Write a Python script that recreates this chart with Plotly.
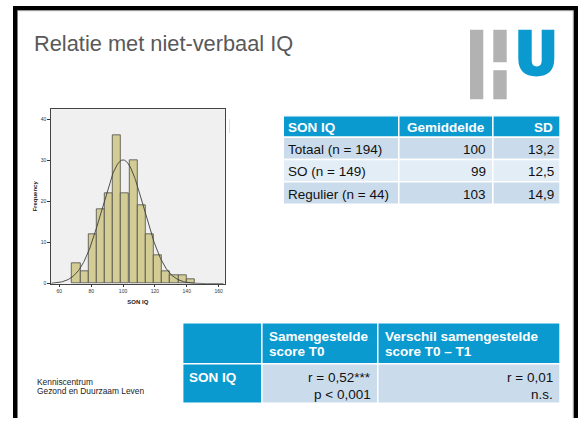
import numpy as np
import plotly.graph_objects as go

W, H = 578, 421
FONT = "Liberation Sans, Arial, sans-serif"

# ---------------- data ----------------
title_text = "Relatie met niet-verbaal IQ"
footer_lines = ["Kenniscentrum", "Gezond en Duurzaam Leven"]

# histogram (SON IQ)
bin_centers = [70.6, 75.7, 80.8, 86.0, 91.1, 96.2, 101.3, 106.5, 111.6, 116.7,
               121.9, 127.0, 132.1, 137.3, 142.4]
bin_counts = [5, 3, 12, 18, 22, 36, 22, 30, 19, 12, 7, 3, 2, 2, 1]
bin_width = 5.13
x_ticks = [60, 80, 100, 120, 140, 160]
y_ticks = [0, 10, 20, 30, 40]
x_title = "SON IQ"
y_title = "Frequency"

# table 1
t1_header = ["SON IQ", "Gemiddelde", "SD"]
t1_groups = ["Totaal (n = 194)", "SO (n = 149)", "Regulier (n = 44)"]
t1_means = [100, 99, 103]
t1_sds = [13.2, 12.5, 14.9]

# table 2
t2_header = ["", "Samengestelde<br>score T0", "Verschil samengestelde<br>score T0 – T1"]
t2_row_label = "SON IQ"
t2_values = ["r = 0,52***<br>p < 0,001", "r = 0,01<br>n.s."]

n_total = 194
mean_total = t1_means[0]
sd_total = t1_sds[0]

# ---------------- styles ----------------
BLUE = "#0a9ad0"
ROW_DARK = "#cadcec"
ROW_LIGHT = "#e3edf6"
GRAY_LOGO = "#b2b2b2"
BAR_FILL = "#d3cd95"


def fx(x):
    return x / W


def fy(y):
    return 1 - y / H


shapes = []
annotations = []


def rect(x0, y0, x1, y1, fill, lw=0, lc="white", layer="above"):
    shapes.append(dict(type="rect", xref="paper", yref="paper",
                       x0=fx(x0), x1=fx(x1), y0=fy(y1), y1=fy(y0),
                       fillcolor=fill, line=dict(width=lw, color=lc), layer=layer))


def text(s, x, y, size=13.5, color="#000", bold=False, xanchor="left"):
    if bold:
        s = "<b>" + s + "</b>"
    annotations.append(dict(text=s, x=fx(x), y=fy(y), xref="paper", yref="paper",
                            showarrow=False, xanchor=xanchor, yanchor="middle",
                            font=dict(family=FONT, size=size, color=color),
                            borderpad=0))


def fmt(v):
    return (str(v).replace(".", ",")) if isinstance(v, float) else str(v)


# ---------------- slide frame ----------------
rect(13, 6, 17.5, 421, "#000")
rect(13, 6, 578, 10.5, "#000")
rect(573.5, 6, 578, 421, "#000")
rect(17.5, 10.5, 573.5, 11.3, "#b8b8b8")
rect(572.7, 10.5, 573.5, 421, "#b8b8b8")

# title
text(title_text, 33, 44, size=21.8, color="#595959")

# logo
rect(470, 30, 483.3, 100, GRAY_LOGO)
rect(493.3, 30, 506.7, 62.7, GRAY_LOGO)
rect(493.3, 70.7, 506.7, 100, GRAY_LOGO)

u = [("M", 518.3, 30), ("L", 531.7, 30), ("L", 531.7, 61), ("Q", 531.7, 67, 536.7, 67),
     ("Q", 541.7, 67, 541.7, 61), ("L", 541.7, 30), ("L", 554.3, 30), ("L", 554.3, 59),
     ("Q", 554.3, 77, 536.3, 77), ("Q", 518.3, 77, 518.3, 59)]
path = ""
for seg in u:
    cmd = seg[0]
    coords = seg[1:]
    parts = []
    for i in range(0, len(coords), 2):
        parts.append(f"{fx(coords[i]):.5f},{fy(coords[i+1]):.5f}")
    path += cmd + " " + " ".join(parts) + " "
path += "Z"
shapes.append(dict(type="path", xref="paper", yref="paper", path=path,
                   fillcolor=BLUE, line=dict(width=0)))

# footer
for i, line in enumerate(footer_lines):
    text(line, 36, 385 + i * 9.3, size=8.4, color="#222")

# ---------------- table 1 ----------------
t1_x = [283.3, 398.8, 492.9, 560]
t1_y = [116.7, 138.2, 160.7, 183.2, 205.7]
for c in range(3):
    rect(t1_x[c], t1_y[0], t1_x[c + 1], t1_y[1], BLUE, lw=1.4)
    for r in range(3):
        rect(t1_x[c], t1_y[r + 1], t1_x[c + 1], t1_y[r + 2],
             ROW_DARK if r % 2 == 0 else ROW_LIGHT, lw=1.4)
hy = (t1_y[0] + t1_y[1]) / 2 + 0.5
text(t1_header[0], t1_x[0] + 4, hy, color="white", bold=True)
text(t1_header[1], t1_x[2] - 7, hy, color="white", bold=True, xanchor="right")
text(t1_header[2], t1_x[3] - 6, hy, color="white", bold=True, xanchor="right")
for r in range(3):
    cy = (t1_y[r + 1] + t1_y[r + 2]) / 2 + 1
    text(t1_groups[r], t1_x[0] + 4, cy, color="#111")
    text(fmt(t1_means[r]), t1_x[2] - 6, cy, color="#111", xanchor="right")
    text(fmt(t1_sds[r]), t1_x[3] - 5, cy, color="#111", xanchor="right")

# ---------------- table 2 ----------------
t2_x = [182.7, 261.9, 377.8, 560]
t2_y = [325, 366.3, 406]
for c in range(3):
    rect(t2_x[c], t2_y[0], t2_x[c + 1], t2_y[1], BLUE, lw=1.4)
    rect(t2_x[c], t2_y[1], t2_x[c + 1], t2_y[2], BLUE if c == 0 else ROW_DARK, lw=1.4)
for c in (1, 2):
    lines = t2_header[c].split("<br>")
    for i, ln in enumerate(lines):
        text(ln, t2_x[c] + 6, 338.5 + i * 15.2, color="white", bold=True)
text(t2_row_label, t2_x[0] + 5.5, 380.3, color="white", bold=True)
for c in (1, 2):
    lines = t2_values[c - 1].split("<br>")
    for i, ln in enumerate(lines):
        text(ln, t2_x[c + 1] - 6, 380.3 + i * 17.2, color="#111", xanchor="right")

# ---------------- histogram ----------------
fig = go.Figure()
fig.add_trace(go.Bar(x=bin_centers, y=bin_counts, width=bin_width,
                     marker=dict(color=BAR_FILL, line=dict(color="#4a4a4a", width=0.8)),
                     hoverinfo="skip", showlegend=False))
xs = np.linspace(55, 163, 300)
ys = n_total * bin_width / (sd_total * np.sqrt(2 * np.pi)) * np.exp(-0.5 * ((xs - mean_total) / sd_total) ** 2)
fig.add_trace(go.Scatter(x=xs, y=ys, mode="lines", line=dict(color="#3c3c3c", width=0.9),
                         hoverinfo="skip", showlegend=False))

# leftover mark of the pasted image
rect(229.2, 120, 229.8, 134, "#c8c8c8")

fig.update_layout(
    width=W, height=H, autosize=False,
    margin=dict(l=0, r=0, t=0, b=0),
    paper_bgcolor="white", plot_bgcolor="#f0f0f0",
    bargap=0,
    shapes=shapes, annotations=annotations,
    xaxis=dict(domain=[fx(50.7), fx(225)], range=[54.6, 164], tickvals=x_ticks,
               ticks="outside", ticklen=2.5, tickwidth=0.7, tickcolor="#333",
               tickfont=dict(family=FONT, size=5, color="#333"),
               showgrid=False, zeroline=False, showline=True, mirror=True,
               linecolor="#444", linewidth=0.8,
               title=dict(text="<b>" + x_title + "</b>", font=dict(family=FONT, size=6, color="#222"),
                          standoff=6)),
    yaxis=dict(domain=[fy(285.7), fy(110)], range=[0, 42.4], tickvals=y_ticks,
               ticks="outside", ticklen=2.5, tickwidth=0.7, tickcolor="#333",
               tickfont=dict(family=FONT, size=5, color="#333"),
               showgrid=False, zeroline=False, showline=True, mirror=True,
               linecolor="#444", linewidth=0.8,
               title=dict(text="<b>" + y_title + "</b>", font=dict(family=FONT, size=6, color="#222"),
                          standoff=2)),
)

fig.write_html("out.html", config={"displayModeBar": False},
               post_script="document.body.style.margin='0';document.body.style.overflow='hidden';")
